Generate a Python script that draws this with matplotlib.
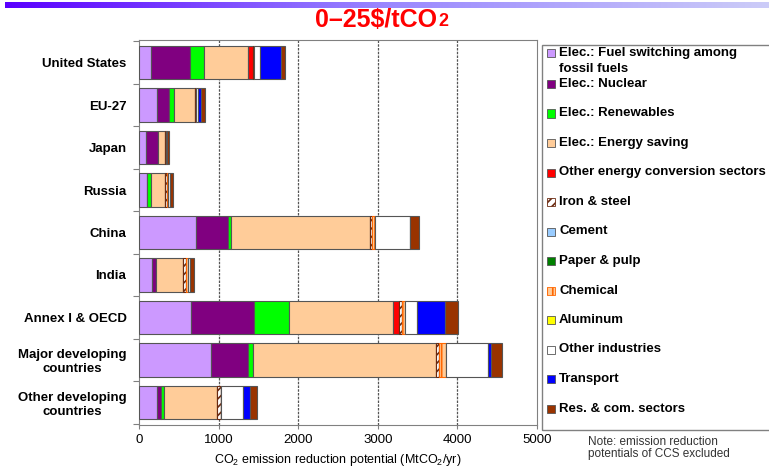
import numpy as np
import matplotlib.pyplot as plt
from matplotlib.patches import Rectangle
from matplotlib.colors import LinearSegmentedColormap

plt.rcParams['font.family'] = ['Liberation Sans', 'DejaVu Sans']
plt.rcParams['mathtext.fontset'] = 'custom'
plt.rcParams['mathtext.rm'] = 'Liberation Sans'
plt.rcParams['hatch.linewidth'] = 1.2

regions = ['United States', 'EU-27', 'Japan', 'Russia', 'China', 'India',
           'Annex I & OECD', 'Major developing\ncountries', 'Other developing\ncountries']

# MtCO2/yr, 0-25 $/tCO2
fuel_switch = [150, 225, 90, 95, 720, 165, 650, 905, 225]
nuclear = [490, 150, 150, 0, 400, 50, 790, 465, 50]
renewables = [175, 63, 0, 55, 40, 0, 450, 60, 40]
energy_saving = [555, 260, 85, 180, 1745, 340, 1305, 2295, 665]
other_conv = [65, 0, 0, 0, 0, 0, 75, 0, 0]
iron_steel = [10, 20, 15, 20, 20, 35, 40, 40, 45]
cement = [0, 0, 0, 0, 0, 0, 0, 0, 0]
paper = [0, 0, 0, 0, 0, 0, 0, 0, 0]
chemical = [0, 0, 0, 10, 45, 30, 30, 90, 0]
aluminum = [0, 0, 0, 0, 0, 0, 0, 0, 0]
other_ind = [75, 20, 10, 25, 440, 20, 150, 525, 280]
transport = [265, 40, 0, 0, 0, 0, 350, 40, 85]
res_com = [45, 45, 25, 40, 110, 50, 165, 140, 95]

labels = ['Elec.: Fuel switching among\nfossil fuels', 'Elec.: Nuclear', 'Elec.: Renewables',
          'Elec.: Energy saving', 'Other energy conversion sectors', 'Iron & steel', 'Cement',
          'Paper & pulp', 'Chemical', 'Aluminum', 'Other industries', 'Transport',
          'Res. & com. sectors']
series = [fuel_switch, nuclear, renewables, energy_saving, other_conv, iron_steel, cement,
          paper, chemical, aluminum, other_ind, transport, res_com]
# (facecolor, edgecolor, hatch)
styles = [('#CC99FF', '#555555', None), ('#800080', '#555555', None), ('#00FF00', '#555555', None),
          ('#FFCC99', '#555555', None), ('#FF0000', '#555555', None), ('#FFFFFF', '#6B2A10', '////'),
          ('#99CCFF', '#555555', None), ('#008000', '#555555', None), ('#FFCC99', '#FF6600', '|||'),
          ('#FFFF00', '#555555', None), ('#FFFFFF', '#555555', None), ('#0000FF', '#555555', None),
          ('#993300', '#555555', None)]

W, H = 769, 470
fig = plt.figure(figsize=(W / 100, H / 100), dpi=100)


def fx(px):
    return px / W


def fy(py):
    return 1 - py / H


ax = fig.add_axes([fx(139), fy(425), fx(537) - fx(139), fy(40) - fy(425)])

y = np.arange(len(regions))
left = np.zeros(len(regions))
for vals, (fc, ec, hatch) in zip(series, styles):
    vals = np.array(vals, dtype=float)
    ax.barh(y, vals, left=left, height=0.78, color=fc, edgecolor=ec,
            hatch=hatch, linewidth=0.8, zorder=3)
    left += vals

ax.set_xlim(0, 5000)
ax.set_ylim(len(regions) - 0.47, -0.53)
ax.set_xticks([0, 1000, 2000, 3000, 4000, 5000])
ax.tick_params(axis='x', labelsize=9.5, length=3, color='#808080')
ax.set_yticks(np.arange(len(regions) + 1) - 0.5)
ax.set_yticklabels([])
ax.tick_params(axis='y', which='major', length=4, color='#808080')
ax.set_yticks(y, minor=True)
ax.set_yticklabels(regions, minor=True, fontsize=9.5, fontweight='bold', multialignment='center')
ax.tick_params(axis='y', which='minor', length=0, pad=9)
for v in [1000, 2000, 3000, 4000]:
    ax.axvline(v, color='#555555', linestyle=(0, (2, 1)), linewidth=0.9, zorder=1)
for s in ax.spines.values():
    s.set_color('#808080')
ax.set_xlabel('CO$_2$ emission reduction potential (MtCO$_2$/yr)', fontsize=9, labelpad=4)

# gradient band at the top
band = fig.add_axes([fx(5), fy(8), fx(769) - fx(5), fy(2) - fy(8)])
cmap = LinearSegmentedColormap.from_list('band', ['#5A00FF', '#9A88FF', '#CCCCF8'])
band.imshow(np.linspace(0, 1, 256)[None, :], aspect='auto', cmap=cmap)
band.axis('off')

fig.text(fx(437), fy(20), '0–25$/tCO', color='red', fontsize=18, fontweight='bold',
         ha='right', va='center')
fig.text(fx(438), fy(22), '2', color='red', fontsize=13, fontweight='bold',
         ha='left', va='center')

# legend
fig.add_artist(Rectangle((fx(542), fy(430)), fx(790) - fx(542), fy(45) - fy(430),
                         transform=fig.transFigure, facecolor='none', edgecolor='#808080',
                         linewidth=1, clip_on=False))
for i, (lab, (fc, ec, hatch)) in enumerate(zip(labels, styles)):
    yc = 53 if i == 0 else 84 + (i - 1) * 29.5
    fig.add_artist(Rectangle((fx(547), fy(yc + 4)), fx(8), fy(0) - fy(8),
                             transform=fig.transFigure, facecolor=fc,
                             edgecolor=ec if hatch else '#555555', hatch=hatch, linewidth=0.6))
    fig.text(fx(559), fy(yc - 6), lab, fontsize=9.5, fontweight='bold', ha='left', va='top',
             linespacing=1.45)

fig.text(fx(588), fy(448), 'Note: emission reduction\npotentials of CCS excluded',
         fontsize=8.5, ha='left', va='center', color='#333333', linespacing=1.1)

fig.savefig('out.png', dpi=100)
